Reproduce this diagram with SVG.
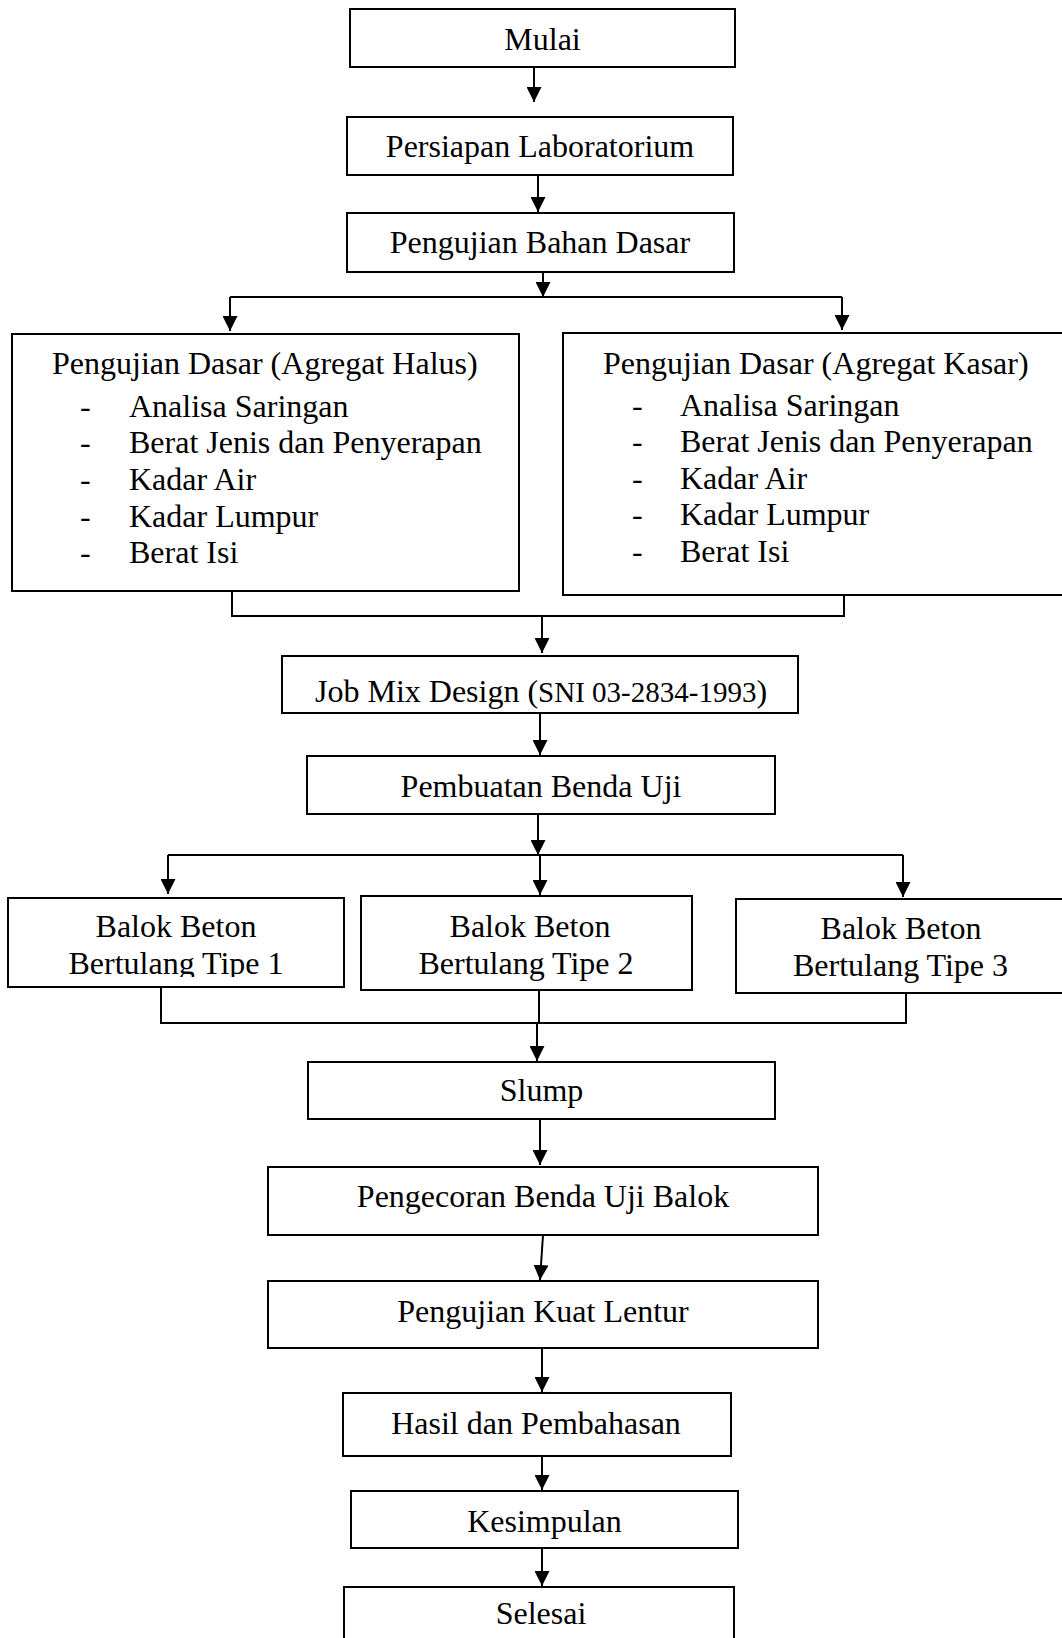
<svg xmlns="http://www.w3.org/2000/svg" width="1062" height="1638" viewBox="0 0 1062 1638">
<style>
.box{fill:#fff;stroke:#000;stroke-width:2}
.t{font-family:"Liberation Serif","Times New Roman",serif;font-size:32px;fill:#000}
.c{text-anchor:middle}
.ln{fill:none;stroke:#000;stroke-width:2}
.ar{fill:none;stroke:#000;stroke-width:2;marker-end:url(#ah)}
</style>
<defs>
<marker id="ah" markerUnits="userSpaceOnUse" markerWidth="15" markerHeight="15" refX="15" refY="7.5" orient="auto">
<path d="M0,0 L15,7.5 L0,15 Z" fill="#000"/>
</marker>
<clipPath id="clip1"><rect x="8" y="898" width="336" height="79"/></clipPath>
</defs>
<rect width="1062" height="1638" fill="#fff"/>

<g id="connectors">
<line class="ar" x1="534" y1="67" x2="534" y2="102"/>
<line class="ar" x1="538" y1="175" x2="538" y2="212"/>
<line class="ar" x1="543" y1="272" x2="543" y2="297"/>
<polyline class="ln" points="230,297 842,297"/>
<line class="ar" x1="230" y1="297" x2="230" y2="331"/>
<line class="ar" x1="842" y1="297" x2="842" y2="330"/>
<polyline class="ln" points="232,591 232,616 844,616 844,595"/>
<line class="ar" x1="542" y1="616" x2="542" y2="653"/>
<line class="ar" x1="540" y1="713" x2="540" y2="755"/>
<line class="ar" x1="538" y1="814" x2="538" y2="855"/>
<polyline class="ln" points="168,855 903,855"/>
<line class="ar" x1="168" y1="855" x2="168" y2="894"/>
<line class="ar" x1="540" y1="855" x2="540" y2="895"/>
<line class="ar" x1="903" y1="855" x2="903" y2="897"/>
<polyline class="ln" points="161,987 161,1023 906,1023 906,993"/>
<line class="ln" x1="539" y1="990" x2="539" y2="1023"/>
<line class="ar" x1="537" y1="1023" x2="537" y2="1061"/>
<line class="ar" x1="540" y1="1119" x2="540" y2="1165"/>
<line class="ar" x1="543" y1="1235" x2="540" y2="1280"/>
<line class="ar" x1="542" y1="1348" x2="542" y2="1392"/>
<line class="ar" x1="542" y1="1456" x2="542" y2="1490"/>
<line class="ar" x1="542" y1="1548" x2="542" y2="1586"/>
</g>

<g id="mulai">
<rect class="box" x="350" y="9" width="385" height="58"/>
<text class="t c" x="542.5" y="50">Mulai</text>
</g>
<g id="persiapan">
<rect class="box" x="347" y="117" width="386" height="58"/>
<text class="t c" x="540" y="157">Persiapan Laboratorium</text>
</g>
<g id="bahan-dasar">
<rect class="box" x="347" y="213" width="387" height="59"/>
<text class="t c" x="540" y="253">Pengujian Bahan Dasar</text>
</g>

<g id="agregat-halus">
<rect class="box" x="12" y="334" width="507" height="257"/>
<text class="t" x="52" y="374">Pengujian Dasar (Agregat Halus)</text>
<text class="t" x="80" y="416.5">-</text><text class="t" x="129" y="416.5">Analisa Saringan</text>
<text class="t" x="80" y="453">-</text><text class="t" x="129" y="453">Berat Jenis dan Penyerapan</text>
<text class="t" x="80" y="490">-</text><text class="t" x="129" y="490">Kadar Air</text>
<text class="t" x="80" y="526.5">-</text><text class="t" x="129" y="526.5">Kadar Lumpur</text>
<text class="t" x="80" y="563">-</text><text class="t" x="129" y="563">Berat Isi</text>
</g>

<g id="agregat-kasar">
<rect class="box" x="563" y="333" width="503" height="262"/>
<text class="t" x="603" y="373.5">Pengujian Dasar (Agregat Kasar)</text>
<text class="t" x="632" y="415.5">-</text><text class="t" x="680" y="415.5">Analisa Saringan</text>
<text class="t" x="632" y="452">-</text><text class="t" x="680" y="452">Berat Jenis dan Penyerapan</text>
<text class="t" x="632" y="488.5">-</text><text class="t" x="680" y="488.5">Kadar Air</text>
<text class="t" x="632" y="525">-</text><text class="t" x="680" y="525">Kadar Lumpur</text>
<text class="t" x="632" y="562">-</text><text class="t" x="680" y="562">Berat Isi</text>
</g>

<g id="job-mix">
<rect class="box" x="282" y="656" width="516" height="57"/>
<text class="t" x="315" y="702">Job Mix Design (<tspan font-size="29px">SNI 03-2834-1993</tspan>)</text>
</g>

<g id="pembuatan">
<rect class="box" x="307" y="756" width="468" height="58"/>
<text class="t c" x="541" y="797">Pembuatan Benda Uji</text>
</g>

<g id="tipe1">
<rect class="box" x="8" y="898" width="336" height="89"/>
<text class="t c" x="176" y="937">Balok Beton</text>
<text class="t c" x="176" y="974" clip-path="url(#clip1)">Bertulang Tipe 1</text>
</g>
<g id="tipe2">
<rect class="box" x="361" y="896" width="331" height="94"/>
<text class="t c" x="530" y="937">Balok Beton</text>
<text class="t c" x="526" y="973.5">Bertulang Tipe 2</text>
</g>
<g id="tipe3">
<rect class="box" x="736" y="899" width="330" height="94"/>
<text class="t c" x="901" y="939">Balok Beton</text>
<text class="t c" x="900.5" y="976">Bertulang Tipe 3</text>
</g>

<g id="slump">
<rect class="box" x="308" y="1062" width="467" height="57"/>
<text class="t c" x="541.5" y="1101">Slump</text>
</g>
<g id="pengecoran">
<rect class="box" x="268" y="1167" width="550" height="68"/>
<text class="t c" x="543" y="1207">Pengecoran Benda Uji Balok</text>
</g>
<g id="kuat-lentur">
<rect class="box" x="268" y="1281" width="550" height="67"/>
<text class="t c" x="543" y="1322">Pengujian Kuat Lentur</text>
</g>
<g id="hasil">
<rect class="box" x="343" y="1393" width="388" height="63"/>
<text class="t c" x="536" y="1434">Hasil dan Pembahasan</text>
</g>
<g id="kesimpulan">
<rect class="box" x="351" y="1491" width="387" height="57"/>
<text class="t c" x="544.5" y="1532">Kesimpulan</text>
</g>
<g id="selesai">
<rect class="box" x="344" y="1587" width="390" height="70"/>
<text class="t c" x="541" y="1624">Selesai</text>
</g>
</svg>
